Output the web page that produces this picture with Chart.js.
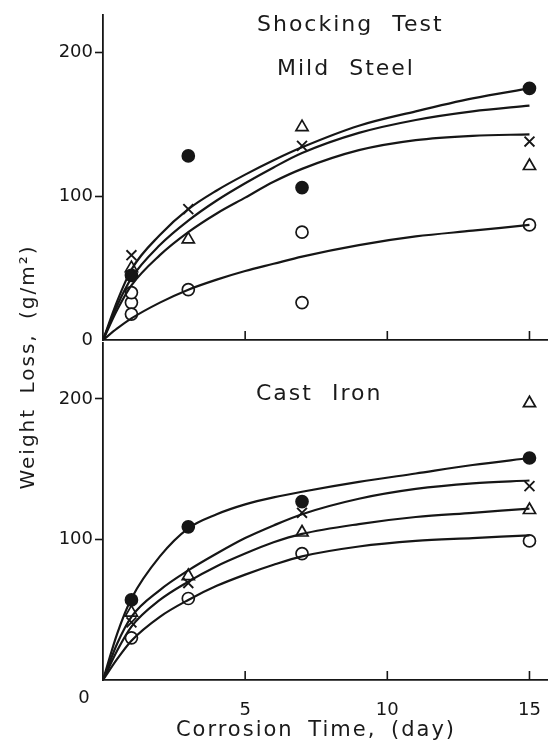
<!DOCTYPE html>
<html>
<head>
<meta charset="utf-8">
<title>Shocking Test - Weight Loss</title>
<script src="https://cdn.jsdelivr.net/npm/chart.js@4.4.1/dist/chart.umd.min.js"></script>
<style>
    body {
        margin: 0;
        background: #fff;
        width: 556px;
        height: 756px;
        overflow: hidden;
        position: relative;
        font-family: 'DejaVu Sans', sans-serif;
        color: #1a1a1a;
    }
    .panel { position: absolute; left: 0; width: 556px; }
    #topPanel { top: 0; height: 354px; }
    #bottomPanel { top: 330px; height: 426px; }
    .label {
        position: absolute;
        white-space: pre;
        font-size: 22px;
        letter-spacing: 2px;
        word-spacing: 10px;
        line-height: 26px;
    }
    #yTitle {
        left: -123px;
        top: 354px;
        width: 300px;
        text-align: center;
        font-size: 20px;
        word-spacing: 6px;
        transform: rotate(-90deg);
    }
    #xTitle {
        left: 116px;
        top: 716px;
        width: 400px;
        text-align: center;
        font-size: 21px;
        word-spacing: 6px;
    }
</style>
</head>
<body>

<div class="panel" id="topPanel"><canvas id="topChart"></canvas></div>
<div class="panel" id="bottomPanel"><canvas id="bottomChart"></canvas></div>

<div class="label" style="left:257px; top:11px;">Shocking Test</div>
<div class="label" style="left:277px; top:55px;">Mild Steel</div>
<div class="label" style="left:256px; top:380px;">Cast Iron</div>
<div class="label" id="yTitle">Weight Loss, (g/m²)</div>
<div class="label" id="xTitle">Corrosion Time, (day)</div>

<script>
// === DATA ===
const days = [1, 3, 7, 15];
const xTicks = [5, 10, 15];
const topYTicks = [0, 100, 200];
const bottomYTicks = [100, 200];
const originLabel = '0';

// Mild Steel (top panel) measured points
const msSolid = [45, 128, 106, 175];
const msCross = [59, 91, 135, 138];
const msTriangle = [50, 70, 148, 121];
const msOpen = [33, 35, 75, 80];
const msOpenExtraDays = [1, 1, 7];
const msOpenExtra = [26, 18, 26];

// Cast Iron (bottom panel) measured points
const ciSolid = [57, 109, 127, 158];
const ciCross = [41, 69, 119, 138];
const ciTriangle = [48, 74, 105, 121];
const ciOpen = [30, 58, 90, 99];
const ciTriangleExtraDays = [15];
const ciTriangleExtra = [197];

// Fitted curves
const curveDays = [0, 0.5, 1, 2, 3, 4, 5, 6, 7, 9, 11, 13, 15];
const msCurveA = [0, 27, 49, 73, 91, 104, 115, 125, 134, 149, 159, 168, 175];
const msCurveB = [0, 24, 43, 66, 83, 97, 109, 120, 130, 144, 153, 159, 163];
const msCurveC = [0, 21, 38, 59, 75, 88, 99, 110, 119, 132, 139, 142, 143];
const msCurveD = [0, 8, 15, 26, 35, 42, 48, 53, 58, 66, 72, 76, 80];

const ciCurveA = [0, 33, 58, 88, 108, 118, 125, 130, 134, 141, 147, 153, 158];
const ciCurveB = [0, 26, 45, 64, 78, 90, 101, 110, 118, 129, 136, 140, 142];
const ciCurveC = [0, 21, 38, 57, 70, 81, 90, 98, 104, 111, 116, 119, 122];
const ciCurveD = [0, 15, 28, 45, 57, 67, 75, 82, 88, 95, 99, 101, 103];

// === HELPERS ===
const INK = '#161616';
const toXY = (xs, ys) => xs.map((x, i) => ({ x: x, y: ys[i] }));

function curve(values) {
    return {
        data: toXY(curveDays, values),
        borderColor: INK,
        borderWidth: 2.2,
        pointRadius: 0,
        cubicInterpolationMode: 'monotone',
        fill: false
    };
}

function marks(xs, ys, style) {
    const base = {
        data: toXY(xs, ys),
        showLine: false,
        pointBorderColor: INK,
        pointBorderWidth: 1.7,
        pointBackgroundColor: '#fff'
    };
    if (style === 'solid') {
        base.pointStyle = 'circle';
        base.pointRadius = 6;
        base.pointBackgroundColor = INK;
    } else if (style === 'open') {
        base.pointStyle = 'circle';
        base.pointRadius = 6;
    } else if (style === 'triangle') {
        base.pointStyle = 'triangle';
        base.pointRadius = 7;
    } else {
        base.pointStyle = 'crossRot';
        base.pointRadius = 7;
        base.pointBorderWidth = 1.9;
    }
    return base;
}

// inward x ticks + origin label
const inwardTicks = {
    id: 'inwardTicks',
    afterDraw(chart, args, opts) {
        const { ctx, scales: { x, y } } = chart;
        ctx.save();
        ctx.strokeStyle = INK;
        ctx.lineWidth = 1.6;
        xTicks.forEach(v => {
            const px = x.getPixelForValue(v);
            ctx.beginPath();
            ctx.moveTo(px, y.bottom);
            ctx.lineTo(px, y.bottom - 9);
            ctx.stroke();
        });
        if (opts.origin) {
            ctx.fillStyle = INK;
            ctx.font = '18px "DejaVu Sans"';
            ctx.textAlign = 'center';
            ctx.textBaseline = 'middle';
            ctx.fillText(originLabel, x.getPixelForValue(0) - 19, y.bottom + 18);
        }
        ctx.restore();
    }
};

function buildOptions(yMax, yTicks, padTop, xAxisHeight, showXLabels) {
    return {
        responsive: true,
        maintainAspectRatio: false,
        animation: false,
        layout: { padding: { top: padTop, left: 0, right: 0, bottom: 0 } },
        plugins: {
            legend: { display: false },
            tooltip: { enabled: false },
            inwardTicks: { origin: showXLabels }
        },
        scales: {
            x: {
                type: 'linear',
                min: 0,
                max: 15.62,
                afterBuildTicks: s => { s.ticks = xTicks.map(v => ({ value: v })); },
                afterFit: s => { s.height = xAxisHeight; },
                grid: { display: false },
                border: { display: true, color: INK, width: 1.8 },
                ticks: {
                    display: showXLabels,
                    padding: 12,
                    color: INK,
                    font: { family: 'DejaVu Sans', size: 18 },
                    maxRotation: 0
                }
            },
            y: {
                min: 0,
                max: yMax,
                afterBuildTicks: s => { s.ticks = yTicks.map(v => ({ value: v })); },
                afterFit: s => { s.width = 103; },
                grid: {
                    drawOnChartArea: false,
                    drawTicks: true,
                    tickLength: 8,
                    tickWidth: 1.6,
                    tickColor: ctx => (ctx.tick && ctx.tick.value === 0) ? 'rgba(0,0,0,0)' : INK
                },
                border: { display: true, color: INK, width: 1.8 },
                ticks: {
                    padding: 2,
                    color: INK,
                    font: { family: 'DejaVu Sans', size: 18 }
                }
            }
        }
    };
}

// === TOP PANEL: MILD STEEL ===
new Chart(document.getElementById('topChart'), {
    type: 'line',
    data: {
        datasets: [
            curve(msCurveA), curve(msCurveB), curve(msCurveC), curve(msCurveD),
            marks(days, msSolid, 'solid'),
            marks(days, msCross, 'cross'),
            marks(days, msTriangle, 'triangle'),
            marks(days, msOpen, 'open'),
            marks(msOpenExtraDays, msOpenExtra, 'open')
        ]
    },
    options: buildOptions(226, topYTicks, 15, 14, false),
    plugins: [inwardTicks]
});

// === BOTTOM PANEL: CAST IRON ===
new Chart(document.getElementById('bottomChart'), {
    type: 'line',
    data: {
        datasets: [
            curve(ciCurveA), curve(ciCurveB), curve(ciCurveC), curve(ciCurveD),
            marks(days, ciSolid, 'solid'),
            marks(days, ciCross, 'cross'),
            marks(days, ciTriangle, 'triangle'),
            marks(days, ciOpen, 'open'),
            marks(ciTriangleExtraDays, ciTriangleExtra, 'triangle')
        ]
    },
    options: buildOptions(240, bottomYTicks, 10, 76, true),
    plugins: [inwardTicks]
});
</script>
</body>
</html>
